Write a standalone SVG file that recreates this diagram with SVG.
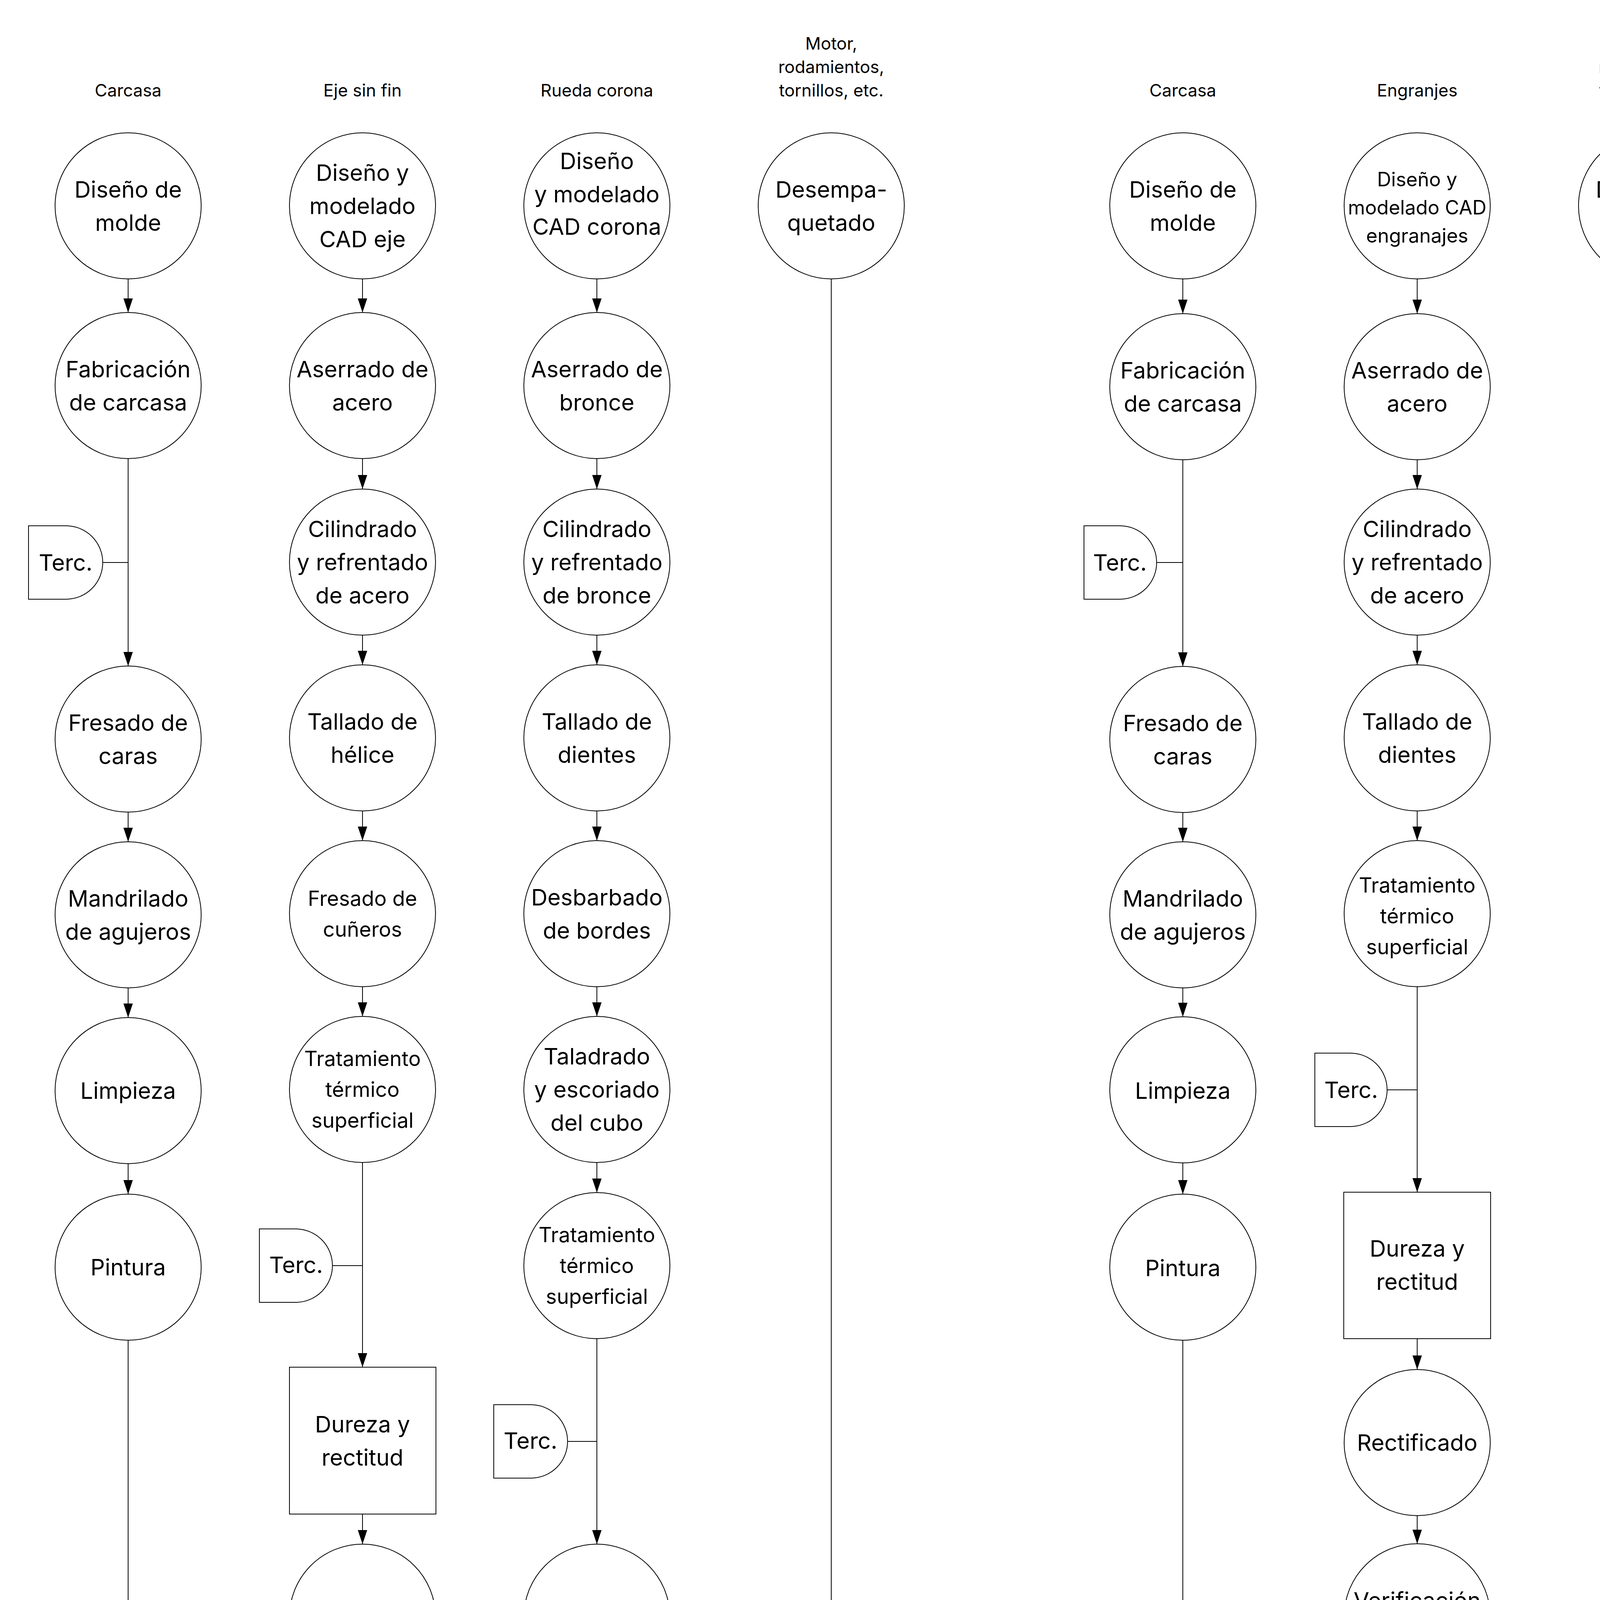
<svg xmlns="http://www.w3.org/2000/svg" width="4488" height="7776" viewBox="0 0 4488 7776">
<defs>
<marker id="ah" markerUnits="userSpaceOnUse" markerWidth="24" markerHeight="36" refX="12" refY="36" orient="0" viewBox="0 0 24 36"><path d="M0,0 L24,0 L12,36 Z" fill="#000"/></marker>
<style>
.n{fill:#fff;stroke:#000;stroke-width:2}
.c{fill:none;stroke:#000;stroke-width:2}
.a{fill:none;stroke:#000;stroke-width:2;marker-end:url(#ah)}
text{font-family:Inter,"Noto Sans","Liberation Sans",sans-serif;fill:#000;text-anchor:middle;dominant-baseline:central}
.t{font-size:44px}.r{font-size:58px}.m{font-size:53px}.s{font-size:50px}
</style>
</defs>
<rect width="4488" height="7776" fill="#fff"/>
<g id="titles">
<text class="t" x="328" y="231">Carcasa</text>
<text class="t" x="928" y="231">Eje sin fin</text>
<text class="t" x="1528" y="231">Rueda corona</text>
<text class="t" x="2128" y="111">Motor,</text><text class="t" x="2128" y="171">rodamientos,</text><text class="t" x="2128" y="231">tornillos, etc.</text>
<text class="t" x="3028" y="231">Carcasa</text>
<text class="t" x="3628" y="231">Engranjes</text>
<text class="t" x="4228" y="111">Motor,</text><text class="t" x="4228" y="171">rodamientos,</text><text class="t" x="4228" y="231">tornillos, etc.</text>
</g>
<g id="connectors">
<line class="a" x1="328" y1="714" x2="328" y2="800"/>
<line class="a" x1="328" y1="1174" x2="328" y2="1705"/>
<line class="c" x1="263" y1="1440" x2="328" y2="1440"/>
<line class="a" x1="328" y1="2079" x2="328" y2="2155"/>
<line class="a" x1="328" y1="2529" x2="328" y2="2605"/>
<line class="a" x1="328" y1="2979" x2="328" y2="3057"/>
<line class="a" x1="328" y1="3431" x2="328" y2="4852"/>
<line class="a" x1="928" y1="714" x2="928" y2="800"/>
<line class="a" x1="928" y1="1174" x2="928" y2="1252"/>
<line class="a" x1="928" y1="1626" x2="928" y2="1702"/>
<line class="a" x1="928" y1="2076" x2="928" y2="2152"/>
<line class="a" x1="928" y1="2526" x2="928" y2="2602"/>
<line class="a" x1="928" y1="2976" x2="928" y2="3500"/>
<line class="c" x1="851" y1="3240" x2="928" y2="3240"/>
<line class="a" x1="928" y1="3876" x2="928" y2="3953"/>
<line class="a" x1="928" y1="4327" x2="928" y2="4402"/>
<line class="a" x1="928" y1="4776" x2="928" y2="4852"/>
<line class="a" x1="1528" y1="714" x2="1528" y2="800"/>
<line class="a" x1="1528" y1="1174" x2="1528" y2="1252"/>
<line class="a" x1="1528" y1="1626" x2="1528" y2="1702"/>
<line class="a" x1="1528" y1="2076" x2="1528" y2="2152"/>
<line class="a" x1="1528" y1="2526" x2="1528" y2="2602"/>
<line class="a" x1="1528" y1="2976" x2="1528" y2="3053"/>
<line class="a" x1="1528" y1="3427" x2="1528" y2="3953"/>
<line class="c" x1="1453" y1="3690" x2="1528" y2="3690"/>
<line class="a" x1="1528" y1="4327" x2="1528" y2="4402"/>
<line class="a" x1="1528" y1="4776" x2="1528" y2="4852"/>
<line class="a" x1="2128" y1="714" x2="2128" y2="4852"/>
<path class="c" d="M328,5227 V5301 H1508 V5284 H1547 V5300 H2128 M928,5227 V5301 M2128,5227 V6352 H1228 M1528,5227 V5821 H1228"/>
<line class="a" x1="1228" y1="5301" x2="1228" y2="5377"/>
<line class="a" x1="1228" y1="5751" x2="1228" y2="5902"/>
<line class="a" x1="1228" y1="6277" x2="1228" y2="6428"/>
<line class="a" x1="1228" y1="6805" x2="1228" y2="6887"/>
<line class="a" x1="1228" y1="7266" x2="1228" y2="7346"/>
<line class="a" x1="3028" y1="714" x2="3028" y2="803"/>
<line class="a" x1="3028" y1="1177" x2="3028" y2="1706"/>
<line class="c" x1="2961" y1="1440" x2="3028" y2="1440"/>
<line class="a" x1="3028" y1="2080" x2="3028" y2="2155"/>
<line class="a" x1="3028" y1="2529" x2="3028" y2="2603"/>
<line class="a" x1="3028" y1="2977" x2="3028" y2="3057"/>
<line class="a" x1="3028" y1="3431" x2="3028" y2="4402"/>
<line class="a" x1="3628" y1="714" x2="3628" y2="803"/>
<line class="a" x1="3628" y1="1177" x2="3628" y2="1252"/>
<line class="a" x1="3628" y1="1626" x2="3628" y2="1702"/>
<line class="a" x1="3628" y1="2076" x2="3628" y2="2152"/>
<line class="a" x1="3628" y1="2526" x2="3628" y2="3052"/>
<line class="c" x1="3551" y1="2790" x2="3628" y2="2790"/>
<line class="a" x1="3628" y1="3427" x2="3628" y2="3506"/>
<line class="a" x1="3628" y1="3880" x2="3628" y2="3952"/>
<line class="a" x1="3628" y1="4326" x2="3628" y2="4402"/>
<line class="a" x1="4228" y1="714" x2="4228" y2="4402"/>
<path class="c" d="M3028,4775 V4851 H4228 M4228,4775 V5371 H3628"/>
<line class="a" x1="3628" y1="4775" x2="3628" y2="4928"/>
<line class="a" x1="3628" y1="5302" x2="3628" y2="5453"/>
<line class="a" x1="3628" y1="5827" x2="3628" y2="5902"/>
<line class="a" x1="3628" y1="6275" x2="3628" y2="6353"/>
</g>
<g id="n-l1-1"><circle class="n" cx="328" cy="527" r="187"/><text class="r" x="328" y="485">Diseño de</text><text class="r" x="328" y="570">molde</text></g>
<g id="n-l1-2"><circle class="n" cx="328" cy="987" r="187"/><text class="r" x="328" y="945">Fabricación</text><text class="r" x="328" y="1030">de carcasa</text></g>
<g id="n-l1-terc"><path class="n" d="M73,1346 H169 A94,94 0 0 1 169,1534 H73 Z"/><text class="r" x="168" y="1440">Terc.</text></g>
<g id="n-l1-3"><circle class="n" cx="328" cy="1892" r="187"/><text class="r" x="328" y="1850">Fresado de</text><text class="r" x="328" y="1935">caras</text></g>
<g id="n-l1-4"><circle class="n" cx="328" cy="2342" r="187"/><text class="r" x="328" y="2300">Mandrilado</text><text class="r" x="328" y="2385">de agujeros</text></g>
<g id="n-l1-5"><circle class="n" cx="328" cy="2792" r="187"/><text class="r" x="328" y="2792">Limpieza</text></g>
<g id="n-l1-6"><circle class="n" cx="328" cy="3244" r="187"/><text class="r" x="328" y="3244">Pintura</text></g>
<g id="n-l1-tri"><path class="n" d="M141,4852 H515 L328,5227 Z"/></g>
<g id="n-l2-1"><circle class="n" cx="928" cy="527" r="187"/><text class="r" x="928" y="442">Diseño y</text><text class="r" x="928" y="527">modelado</text><text class="r" x="928" y="612">CAD eje</text></g>
<g id="n-l2-2"><circle class="n" cx="928" cy="987" r="187"/><text class="r" x="928" y="945">Aserrado de</text><text class="r" x="928" y="1030">acero</text></g>
<g id="n-l2-3"><circle class="n" cx="928" cy="1439" r="187"/><text class="r" x="928" y="1354">Cilindrado</text><text class="r" x="928" y="1439">y refrentado</text><text class="r" x="928" y="1524">de acero</text></g>
<g id="n-l2-4"><circle class="n" cx="928" cy="1889" r="187"/><text class="r" x="928" y="1847">Tallado de</text><text class="r" x="928" y="1932">hélice</text></g>
<g id="n-l2-5"><circle class="n" cx="928" cy="2339" r="187"/><text class="m" x="928" y="2300">Fresado de</text><text class="m" x="928" y="2379">cuñeros</text></g>
<g id="n-l2-6"><circle class="n" cx="928" cy="2789" r="187"/><text class="m" x="928" y="2710">Tratamiento</text><text class="m" x="928" y="2789">térmico</text><text class="m" x="928" y="2868">superficial</text></g>
<g id="n-l2-terc"><path class="n" d="M664,3146 H757 A94,94 0 0 1 757,3334 H664 Z"/><text class="r" x="758" y="3238">Terc.</text></g>
<g id="n-l2-7"><rect class="n" x="741" y="3500" width="375" height="376"/><text class="r" x="928" y="3646">Dureza y</text><text class="r" x="928" y="3731">rectitud</text></g>
<g id="n-l2-8"><circle class="n" cx="928" cy="4140" r="187"/><text class="r" x="928" y="4140">Rectificado</text></g>
<g id="n-l2-9"><circle class="n" cx="928" cy="4589" r="187"/><text class="r" x="928" y="4547">Verificación</text><text class="r" x="928" y="4632">de hélice</text></g>
<g id="n-l2-tri"><path class="n" d="M741,4852 H1115 L928,5227 Z"/></g>
<g id="n-l3-1"><circle class="n" cx="1528" cy="527" r="187"/><text class="r" x="1528" y="412">Diseño</text><text class="r" x="1528" y="497">y modelado</text><text class="r" x="1528" y="580">CAD corona</text></g>
<g id="n-l3-2"><circle class="n" cx="1528" cy="987" r="187"/><text class="r" x="1528" y="945">Aserrado de</text><text class="r" x="1528" y="1030">bronce</text></g>
<g id="n-l3-3"><circle class="n" cx="1528" cy="1439" r="187"/><text class="r" x="1528" y="1354">Cilindrado</text><text class="r" x="1528" y="1439">y refrentado</text><text class="r" x="1528" y="1524">de bronce</text></g>
<g id="n-l3-4"><circle class="n" cx="1528" cy="1889" r="187"/><text class="r" x="1528" y="1847">Tallado de</text><text class="r" x="1528" y="1932">dientes</text></g>
<g id="n-l3-5"><circle class="n" cx="1528" cy="2339" r="187"/><text class="r" x="1528" y="2297">Desbarbado</text><text class="r" x="1528" y="2382">de bordes</text></g>
<g id="n-l3-6"><circle class="n" cx="1528" cy="2789" r="187"/><text class="r" x="1528" y="2704">Taladrado</text><text class="r" x="1528" y="2789">y escoriado</text><text class="r" x="1528" y="2874">del cubo</text></g>
<g id="n-l3-7"><circle class="n" cx="1528" cy="3240" r="187"/><text class="m" x="1528" y="3161">Tratamiento</text><text class="m" x="1528" y="3240">térmico</text><text class="m" x="1528" y="3319">superficial</text></g>
<g id="n-l3-terc"><path class="n" d="M1264,3596 H1359 A94,94 0 0 1 1359,3784 H1264 Z"/><text class="r" x="1358" y="3688">Terc.</text></g>
<g id="n-l3-8"><circle class="n" cx="1528" cy="4140" r="187"/><text class="r" x="1528" y="4140">Rectificado</text></g>
<g id="n-l3-9"><circle class="n" cx="1528" cy="4589" r="187"/><text class="r" x="1528" y="4547">Verificación</text><text class="r" x="1528" y="4632">de dientes</text></g>
<g id="n-l3-tri"><path class="n" d="M1341,4852 H1715 L1528,5227 Z"/></g>
<g id="n-l4-1"><circle class="n" cx="2128" cy="527" r="187"/><text class="r" x="2128" y="485">Desempa-</text><text class="r" x="2128" y="570">quetado</text></g>
<g id="n-l4-tri"><path class="n" d="M1941,4852 H2315 L2128,5227 Z"/></g>
<g id="n-lc-1"><circle class="n" cx="1228" cy="5564" r="187"/><text class="r" x="1228" y="5479">Montaje</text><text class="r" x="1228" y="5564">eje sin fin en</text><text class="r" x="1228" y="5649">carcasa</text></g>
<g id="n-lc-2"><circle class="n" cx="1228" cy="6090" r="187"/><text class="r" x="1228" y="6005">Montaje</text><text class="r" x="1228" y="6090">corona en</text><text class="r" x="1228" y="6175">carcasa</text></g>
<g id="n-lc-3"><circle class="n" cx="1228" cy="6616" r="189"/><text class="r" x="1228" y="6489">Cierre</text><text class="r" x="1228" y="6574">de tapa y</text><text class="r" x="1228" y="6659">acople al</text><text class="r" x="1228" y="6744">motor</text></g>
<g id="n-lc-4"><rect class="n" x="1041" y="6887" width="375" height="379"/><text class="r" x="1228" y="7030">Prueba</text><text class="r" x="1228" y="7115">rotacional</text></g>
<g id="n-lc-5"><circle class="n" cx="1228" cy="7533" r="188"/><text class="r" x="1228" y="7535">Embalaje</text></g>
<g id="n-r1-1"><circle class="n" cx="3028" cy="527" r="187"/><text class="r" x="3028" y="485">Diseño de</text><text class="r" x="3028" y="570">molde</text></g>
<g id="n-r1-2"><circle class="n" cx="3028" cy="990" r="187"/><text class="r" x="3028" y="948">Fabricación</text><text class="r" x="3028" y="1033">de carcasa</text></g>
<g id="n-r1-terc"><path class="n" d="M2775,1346 H2867 A94,94 0 0 1 2867,1534 H2775 Z"/><text class="r" x="2867" y="1440">Terc.</text></g>
<g id="n-r1-3"><circle class="n" cx="3028" cy="1893" r="187"/><text class="r" x="3028" y="1851">Fresado de</text><text class="r" x="3028" y="1936">caras</text></g>
<g id="n-r1-4"><circle class="n" cx="3028" cy="2342" r="187"/><text class="r" x="3028" y="2300">Mandrilado</text><text class="r" x="3028" y="2385">de agujeros</text></g>
<g id="n-r1-5"><circle class="n" cx="3028" cy="2790" r="187"/><text class="r" x="3028" y="2792">Limpieza</text></g>
<g id="n-r1-6"><circle class="n" cx="3028" cy="3244" r="187"/><text class="r" x="3028" y="3246">Pintura</text></g>
<g id="n-r1-tri"><path class="n" d="M2841,4402 H3215 L3028,4775 Z"/></g>
<g id="n-r2-1"><circle class="n" cx="3628" cy="527" r="187"/><text class="s" x="3628" y="459">Diseño y</text><text class="s" x="3628" y="531">modelado CAD</text><text class="s" x="3628" y="603">engranajes</text></g>
<g id="n-r2-2"><circle class="n" cx="3628" cy="990" r="187"/><text class="r" x="3628" y="948">Aserrado de</text><text class="r" x="3628" y="1033">acero</text></g>
<g id="n-r2-3"><circle class="n" cx="3628" cy="1439" r="187"/><text class="r" x="3628" y="1354">Cilindrado</text><text class="r" x="3628" y="1439">y refrentado</text><text class="r" x="3628" y="1524">de acero</text></g>
<g id="n-r2-4"><circle class="n" cx="3628" cy="1889" r="187"/><text class="r" x="3628" y="1847">Tallado de</text><text class="r" x="3628" y="1932">dientes</text></g>
<g id="n-r2-5"><circle class="n" cx="3628" cy="2339" r="187"/><text class="m" x="3628" y="2266">Tratamiento</text><text class="m" x="3628" y="2345">térmico</text><text class="m" x="3628" y="2424">superficial</text></g>
<g id="n-r2-terc"><path class="n" d="M3366,2696 H3457 A94,94 0 0 1 3457,2884 H3366 Z"/><text class="r" x="3459" y="2790">Terc.</text></g>
<g id="n-r2-6"><rect class="n" x="3440" y="3052" width="376" height="375"/><text class="r" x="3628" y="3196">Dureza y</text><text class="r" x="3628" y="3281">rectitud</text></g>
<g id="n-r2-7"><circle class="n" cx="3628" cy="3693" r="187"/><text class="r" x="3628" y="3693">Rectificado</text></g>
<g id="n-r2-8"><circle class="n" cx="3628" cy="4139" r="187"/><text class="r" x="3628" y="4097">Verificación</text><text class="r" x="3628" y="4182">de hélice</text></g>
<g id="n-r2-tri"><path class="n" d="M3441,4402 H3815 L3628,4775 Z"/></g>
<g id="n-r3-1"><circle class="n" cx="4228" cy="527" r="187"/><text class="r" x="4228" y="485">Desempa-</text><text class="r" x="4228" y="570">quetado</text></g>
<g id="n-r3-tri"><path class="n" d="M4041,4402 H4415 L4228,4775 Z"/></g>
<g id="n-rc-1"><circle class="n" cx="3628" cy="5115" r="187"/><text class="r" x="3628" y="5030">Montaje</text><text class="r" x="3628" y="5115">engranjes</text><text class="r" x="3628" y="5200">en carcasa</text></g>
<g id="n-rc-2"><circle class="n" cx="3628" cy="5640" r="187"/><text class="r" x="3628" y="5512">Cierre</text><text class="r" x="3628" y="5597">de tapa y</text><text class="r" x="3628" y="5682">acople al</text><text class="r" x="3628" y="5767">motor</text></g>
<g id="n-rc-3"><rect class="n" x="3440" y="5902" width="376" height="373"/><text class="r" x="3628" y="6045">Prueba</text><text class="r" x="3628" y="6130">rotacional</text></g>
<g id="n-rc-4"><circle class="n" cx="3628" cy="6540" r="187"/><text class="r" x="3628" y="6542">Embalaje</text></g>
</svg>
